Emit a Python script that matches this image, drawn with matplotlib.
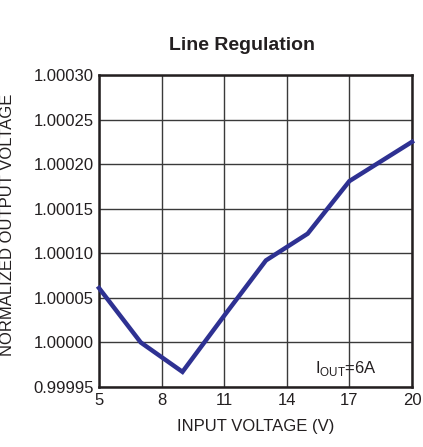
import matplotlib
matplotlib.use("Agg")
import matplotlib.pyplot as plt

plt.rcParams['font.family'] = ['Liberation Sans', 'DejaVu Sans']
plt.rcParams['mathtext.fontset'] = 'custom'
plt.rcParams['mathtext.rm'] = 'Liberation Sans'

input_voltage = [5, 7, 9, 11, 13, 15, 17, 20]
normalized_vout = [1.000061, 1.000000, 0.999967, 1.000030, 1.000092, 1.000122, 1.000181, 1.000225]
x_ticks = [5, 8, 11, 14, 17, 20]
y_ticks = [0.99995, 1.00000, 1.00005, 1.00010, 1.00015, 1.00020, 1.00025, 1.00030]
y_tick_labels = ["0.99995", "1.00000", "1.00005", "1.00010", "1.00015", "1.00020", "1.00025", "1.00030"]

fig = plt.figure(figsize=(4.23, 4.47), dpi=100)
ax = fig.add_axes([99/423, 1-387/447, 313/423, 312/447])

ax.plot(input_voltage, normalized_vout, color='#2E3192', linewidth=3.2, solid_joinstyle='miter', zorder=3, clip_on=False)
ax.set_xlim(5, 20)
ax.set_ylim(0.99995, 1.00030)
ax.set_xticks(x_ticks)
ax.set_yticks(y_ticks)
ax.set_yticklabels(y_tick_labels)
ax.grid(True, color='#3a3a3a', linewidth=1.0)
ax.set_axisbelow(True)
ax.tick_params(length=0, labelsize=12, colors='#231F20', pad=4)
for s in ax.spines.values():
    s.set_linewidth(1.8)
    s.set_color('#231F20')

ax.set_xlabel('INPUT VOLTAGE (V)', fontsize=12, color='#231F20', labelpad=8)
fig.text(8/423, 1-225/447, 'NORMALIZED OUTPUT VOLTAGE', rotation=90, ha='center', va='center',
         fontsize=12, color='#231F20')
fig.text(0.5 + 30/423, 1-45/447, 'Line Regulation', ha='center', va='center', fontsize=14,
         fontweight='bold', color='#231F20')
ax.text(0.69, 0.045, r'I$_{\mathrm{OUT}}$=6A', transform=ax.transAxes, ha='left', va='baseline',
        fontsize=12, color='#231F20')

fig.savefig('out.png', dpi=100)
